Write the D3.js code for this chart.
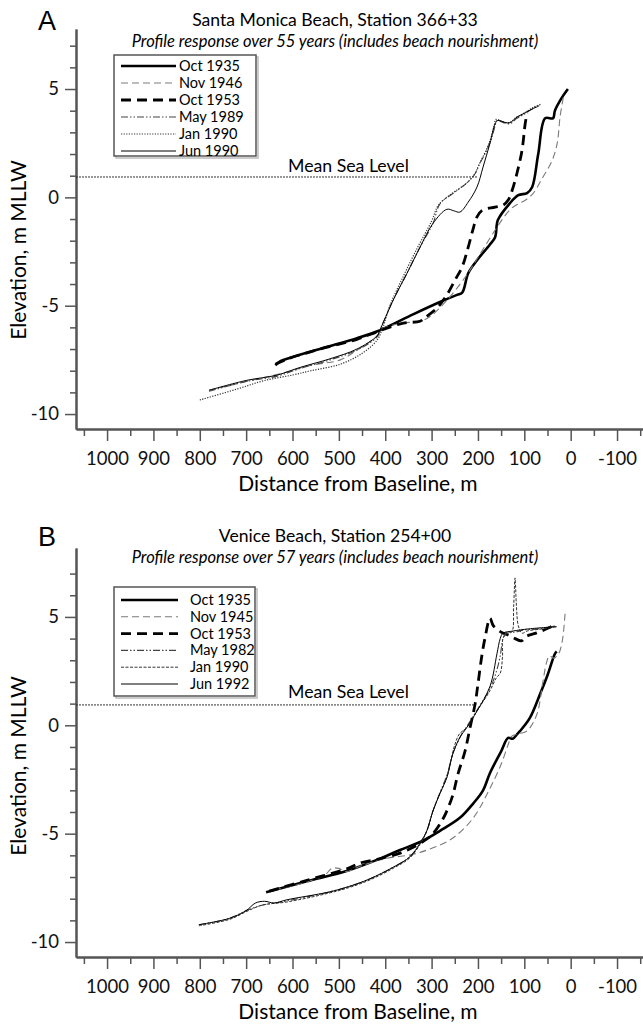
<!DOCTYPE html>
<html>
<head>
<meta charset="utf-8">
<script src="https://cdn.jsdelivr.net/npm/d3@7"></script>
<style>
  body { margin: 0; background: #fff; }
  svg { display: block; font-family: Lato, "Open Sans", sans-serif; }
</style>
</head>
<body>
<div id="chart"></div>
<script>
// ---------- data (distance from baseline m, elevation m MLLW) ----------
var xMajorTicks = [1000, 900, 800, 700, 600, 500, 400, 300, 200, 100, 0, -100];
var xMinorTicks = [1050, 950, 850, 750, 650, 550, 450, 350, 250, 150, 50, -50, -150];
var yMajorTicks = [5, 0, -5, -10];
var yMinorTicks = [7, 6, 4, 3, 2, 1, -1, -2, -3, -4, -6, -7, -8, -9];

var mslElevation = 0.94;

// Panel A : Santa Monica Beach
var labelsA = ["Oct 1935", "Nov 1946", "Oct 1953", "May 1989", "Jan 1990", "Jun 1990"];
var mslA = [1067, 202];

var octA1935 = [[637,-7.75],[625,-7.55],[605,-7.4],[534,-6.95],[461,-6.5],[411,-6.13],[340,-5.4],[282,-4.83],[245,-4.5],[234,-4.4],[221,-3.5],[202,-2.9],[175,-2.2],[163,-1.84],[157,-1.05],[131,-0.27],[113,0.1],[94,0.2],[83,0.48],[70,2.0],[55,3.65],[38,3.65],[34,4.0],[19,4.6],[6,5.0]];
var novA1946 = [[780,-8.9],[700,-8.5],[629,-8.15],[560,-7.75],[497,-7.5],[461,-7.05],[418,-6.4],[405,-6.05],[361,-5.8],[325,-5.72],[303,-5.5],[267,-4.75],[228,-3.7],[195,-2.6],[159,-1.38],[130,-0.55],[113,-0.3],[98,-0.13],[81,0.18],[60,0.93],[40,1.7],[29,2.5],[23,3.7],[16,4.6]];
var octA1953 = [[637,-7.7],[610,-7.45],[540,-7.0],[461,-6.55],[411,-6.15],[361,-5.8],[325,-5.72],[314,-5.55],[288,-5.1],[267,-4.5],[249,-3.8],[234,-3.2],[221,-2.3],[211,-1.5],[202,-0.9],[191,-0.6],[163,-0.45],[145,-0.35],[134,-0.1],[126,0.34],[116,1.1],[105,2.17],[98,3.42],[94,3.89]];
var mayA1989 = [[780,-8.95],[700,-8.5],[633,-8.25],[584,-7.9],[519,-7.5],[461,-7.05],[418,-6.45],[411,-6.1],[383,-4.75],[353,-3.5],[325,-2.3],[297,-1.2],[282,-0.3],[254,0.18],[224,0.66],[206,1.1],[196,1.56],[181,2.17],[170,2.77],[163,3.3],[159,3.55],[145,3.45],[131,3.4],[116,3.65],[103,3.8],[81,4.1],[66,4.25]];
var janA1990 = [[800,-9.35],[720,-8.85],[660,-8.45],[600,-8.2],[560,-8.0],[497,-7.7],[450,-7.2],[418,-6.6],[405,-6.0],[390,-5.0],[360,-3.6],[330,-2.3],[300,-1.1],[285,-0.35],[258,0.15],[228,0.6],[208,1.05],[198,1.5],[183,2.15],[172,2.75],[165,3.3],[161,3.6],[148,3.5],[132,3.45],[117,3.7],[103,3.85],[81,4.15],[64,4.3]];
var junA1990 = [[780,-8.9],[700,-8.45],[633,-8.2],[584,-7.85],[519,-7.45],[461,-7.0],[418,-6.4],[411,-6.1],[383,-4.75],[353,-3.5],[325,-2.3],[297,-1.2],[267,-0.55],[252,-0.62],[239,-0.68],[221,-0.22],[202,0.48],[189,1.4],[174,2.5],[163,3.4],[157,3.55],[140,3.45],[131,3.45],[116,3.7],[103,3.85],[81,4.1],[70,4.2]];

// Panel B : Venice Beach
var labelsB = ["Oct 1935", "Nov 1945", "Oct 1953", "May 1982", "Jan 1990", "Jun 1992"];
var mslB = [1067, 204];

var octB1935 = [[657,-7.7],[569,-7.2],[480,-6.7],[411,-6.15],[368,-5.75],[321,-5.35],[282,-4.87],[239,-4.27],[210,-3.6],[189,-3.0],[174,-2.2],[150,-1.2],[135,-0.58],[125,-0.62],[115,-0.4],[109,-0.26],[88,0.34],[66,1.44],[49,2.37],[34,3.3],[30,3.4]];
var novB1945 = [[640,-7.6],[580,-7.3],[530,-6.9],[515,-6.6],[500,-6.6],[485,-6.75],[454,-6.5],[400,-6.15],[340,-5.95],[297,-5.65],[254,-5.2],[210,-4.27],[174,-2.9],[150,-1.8],[135,-0.9],[127,-0.5],[113,-0.4],[94,-0.26],[73,0.5],[60,2.0],[52,2.9],[46,3.2],[36,3.1],[26,3.3],[18,3.9],[12,5.2]];
var octB1953 = [[650,-7.65],[569,-7.15],[480,-6.6],[454,-6.35],[411,-6.15],[368,-5.9],[321,-5.4],[297,-5.0],[275,-4.3],[267,-3.95],[254,-3.2],[243,-2.24],[228,-1.2],[217,-0.1],[206,1.0],[200,1.9],[191,3.3],[185,4.0],[174,4.94],[167,4.6],[150,4.3],[135,4.17],[120,4.0],[106,3.9],[96,4.1],[75,4.25],[47,4.5],[30,4.7]];
var mayB1982 = [[802,-9.2],[735,-8.9],[700,-8.55],[666,-8.3],[612,-8.1],[523,-7.7],[480,-7.45],[435,-7.1],[383,-6.55],[346,-6.05],[321,-5.3],[310,-4.85],[297,-3.95],[282,-3.1],[267,-2.3],[254,-1.3],[246,-0.9],[235,-0.4],[224,-0.05],[202,0.7],[174,1.7],[160,2.5],[152,3.2],[146,4.0],[140,4.25],[120,4.3],[100,4.4],[70,4.45],[30,4.6]];
var janB1990 = [[802,-9.25],[735,-8.95],[700,-8.6],[666,-8.3],[612,-8.15],[523,-7.75],[480,-7.5],[435,-7.15],[383,-6.6],[346,-6.1],[321,-5.35],[310,-4.87],[297,-3.95],[282,-3.15],[267,-2.4],[258,-1.6],[250,-0.9],[240,-0.4],[224,-0.1],[202,0.66],[174,1.6],[160,2.2],[152,2.4],[147,3.2],[146,4.0],[137,4.25],[127,4.3],[123,5.5],[120,6.8],[117,5.5],[113,4.6],[105,4.25],[94,4.35],[60,4.45],[30,4.55]];
var junB1992 = [[802,-9.2],[735,-8.9],[700,-8.55],[680,-8.2],[660,-8.12],[640,-8.2],[612,-8.05],[523,-7.7],[480,-7.45],[435,-7.1],[383,-6.55],[346,-6.05],[321,-5.3],[310,-4.85],[297,-3.95],[282,-3.15],[267,-2.4],[254,-1.3],[239,-0.56],[224,-0.1],[202,0.66],[174,1.8],[159,3.3],[152,4.0],[146,4.25],[124,4.35],[90,4.45],[30,4.55]];

// ---------- drawing ----------
var W = 643, H = 1026;
var svg = d3.select("#chart").append("svg")
    .attr("width", W)
    .attr("height", H);

// line styles, one per survey (same order as the legends)
var styles = [
  {stroke: "#000", width: 2.6, dash: null},
  {stroke: "#7a7a7a", width: 1.1, dash: "7,4"},
  {stroke: "#000", width: 2.8, dash: "10,6"},
  {stroke: "#444", width: 1.1, dash: "7,2,1.5,2,1.5,2"},
  {stroke: "#333", width: 1.2, dash: "1.2,1.4"},
  {stroke: "#000", width: 1, dash: null}
];

var x = d3.scaleLinear().domain([1067, -156]).range([76, 643]);

function drawPanel(p) {
  var y = d3.scaleLinear().domain(p.yDomain).range(p.yRange);
  var g = svg.append("g");
  var axisY = p.yRange[1];

  // panel letter + titles
  g.append("text").attr("x", 38).attr("y", p.top + 30)
    .style("font-family", "'Liberation Sans', Arial, sans-serif")
    .style("font-size", "27px").text(p.letter);
  g.append("text").attr("x", 335).attr("y", p.top + 26)
    .attr("text-anchor", "middle").style("font-size", "17.6px").text(p.title);
  g.append("text").attr("x", 335).attr("y", p.top + 47)
    .attr("text-anchor", "middle").style("font-size", "16.5px")
    .style("font-style", "italic").text(p.subtitle);

  // axes
  var xMinor = g.append("g").attr("transform", "translate(0," + axisY + ")")
    .call(d3.axisBottom(x).tickValues(xMinorTicks).tickSize(7).tickFormat("").tickSizeOuter(0));
  var xMajor = g.append("g").attr("transform", "translate(0," + axisY + ")")
    .call(d3.axisBottom(x).tickValues(xMajorTicks).tickSize(12).tickPadding(11)
      .tickFormat(function(d) { return String(d); }).tickSizeOuter(0));
  var yMinor = g.append("g").attr("transform", "translate(76,0)")
    .call(d3.axisLeft(y).tickValues(yMinorTicks).tickSize(6).tickFormat("").tickSizeOuter(0));
  var yMajor = g.append("g").attr("transform", "translate(76,0)")
    .call(d3.axisLeft(y).tickValues(yMajorTicks).tickSize(11).tickPadding(6)
      .tickFormat(function(d) { return String(d); }).tickSizeOuter(0));

  [xMinor, xMajor, yMinor, yMajor].forEach(function(a) {
    a.select(".domain").attr("stroke", "#555").attr("stroke-width", 2);
    a.selectAll(".tick line").attr("stroke", "#555").attr("stroke-width", 1.5);
    a.selectAll(".tick text").attr("fill", "#111")
      .style("font-family", "Lato, sans-serif").style("font-size", "18.5px");
  });

  g.append("text").attr("x", 358).attr("y", axisY + 62)
    .attr("text-anchor", "middle").style("font-size", "21px")
    .text("Distance from Baseline, m");
  g.append("text")
    .attr("transform", "translate(26," + (p.top + 250) + ") rotate(-90)")
    .attr("text-anchor", "middle").style("font-size", "21px")
    .text("Elevation, m MLLW");

  // mean sea level
  g.append("line")
    .attr("x1", x(p.msl[0])).attr("x2", x(p.msl[1]))
    .attr("y1", y(mslElevation)).attr("y2", y(mslElevation))
    .attr("stroke", "#333").attr("stroke-width", 1).attr("stroke-dasharray", "2,1");
  g.append("text").attr("x", 288).attr("y", y(mslElevation) - p.mslGap)
    .style("font-size", "17.7px").text("Mean Sea Level");

  // profiles
  var line = d3.line()
    .x(function(d) { return x(d[0]); })
    .y(function(d) { return y(d[1]); })
    .curve(d3.curveCatmullRom.alpha(0.5));

  p.series.forEach(function(s, i) {
    var st = p.styles[i];
    g.append("path").datum(s)
      .attr("d", line)
      .attr("fill", "none")
      .attr("stroke", st.stroke)
      .attr("stroke-width", st.width)
      .attr("stroke-dasharray", st.dash)
      .attr("stroke-linejoin", "round");
  });

  // legend
  var lg = g.append("g");
  lg.append("rect").attr("x", p.legend.x + 2).attr("y", p.legend.y + 2)
    .attr("width", p.legend.w).attr("height", p.legend.h)
    .attr("fill", "none").attr("stroke", "#bbb").attr("stroke-width", 1.5);
  lg.append("rect").attr("x", p.legend.x).attr("y", p.legend.y)
    .attr("width", p.legend.w).attr("height", p.legend.h)
    .attr("fill", "#fff").attr("stroke", "#555").attr("stroke-width", 1.5);
  p.labels.forEach(function(lab, i) {
    var st = p.styles[i];
    var ry = p.legend.y + p.legend.first + i * p.legend.step;
    lg.append("line")
      .attr("x1", p.legend.x + 7).attr("x2", p.legend.lineEnd)
      .attr("y1", ry).attr("y2", ry)
      .attr("stroke", st.stroke).attr("stroke-width", st.width)
      .attr("stroke-dasharray", st.dash);
    lg.append("text").attr("x", p.legend.textX).attr("y", ry + 5)
      .style("font-size", "14.5px").text(lab);
  });
}

drawPanel({
  top: 0, letter: "A",
  title: "Santa Monica Beach, Station 366+33",
  subtitle: "Profile response over 55 years (includes beach nourishment)",
  yDomain: [7.77, -10.69], yRange: [29, 429],
  msl: mslA, mslGap: 5,
  labels: labelsA,
  series: [octA1935, novA1946, octA1953, mayA1989, janA1990, junA1990],
  styles: styles,
  legend: {x: 114, y: 55, w: 142, h: 101, first: 11, step: 17, lineEnd: 176, textX: 179}
});

drawPanel({
  top: 516, letter: "B",
  title: "Venice Beach, Station 254+00",
  subtitle: "Profile response over 57 years (includes beach nourishment)",
  yDomain: [8.18, -10.69], yRange: [548, 957],
  msl: mslB, mslGap: 7,
  labels: labelsB,
  series: [octB1935, novB1945, octB1953, mayB1982, janB1990, junB1992],
  styles: styles.map(function(s, i) {
    return i === 4 ? {stroke: "#333", width: 1, dash: "3,1.5"} : s;
  }),
  legend: {x: 114, y: 587, w: 141, h: 109, first: 13, step: 16.8, lineEnd: 178, textX: 190}
});
</script>
</body>
</html>
